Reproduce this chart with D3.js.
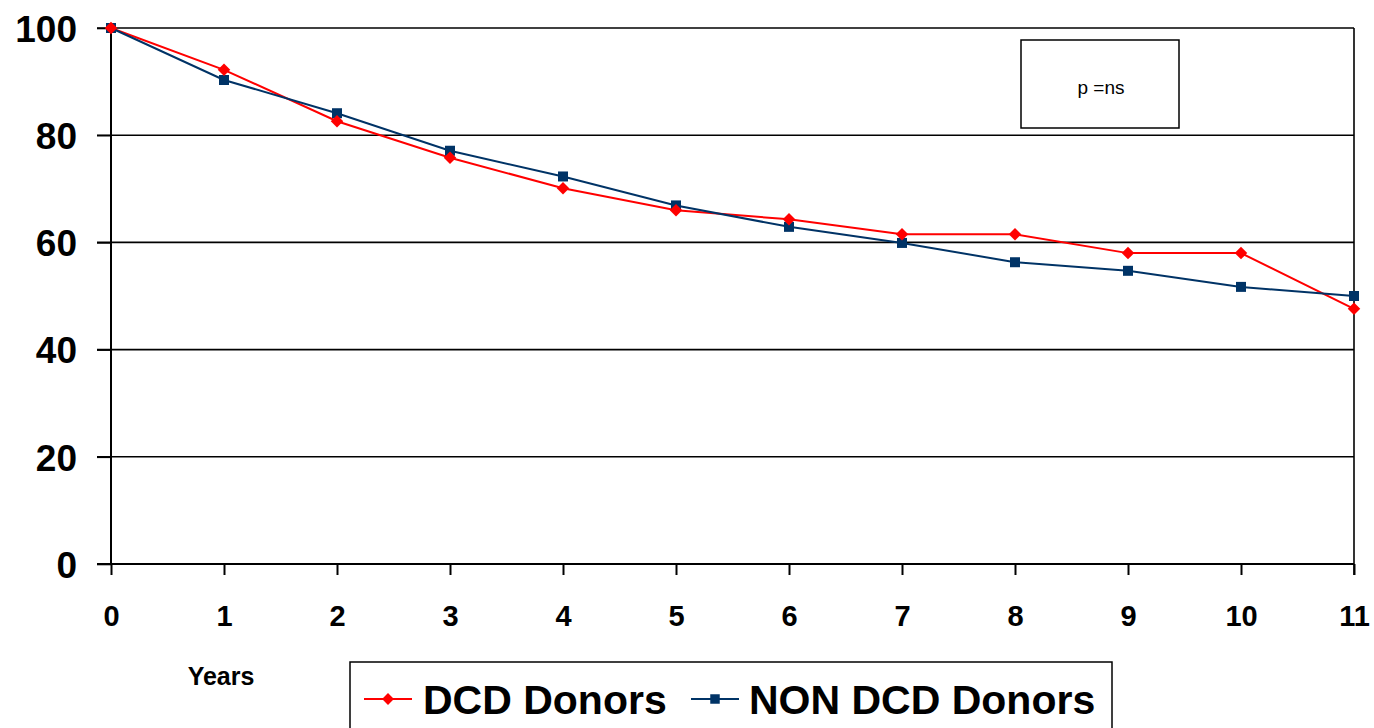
<!DOCTYPE html>
<html><head><meta charset="utf-8">
<script src="https://cdn.jsdelivr.net/npm/d3@7"></script>
<style>body{margin:0;background:#fff}svg{display:block}text{font-family:Arial,"Liberation Sans",sans-serif}</style>
</head><body><svg id="c" width="1374" height="728"></svg>
<script>
const years = [0,1,2,3,4,5,6,7,8,9,10,11];
const dcd = [100,92.2,82.6,75.8,70.1,66.0,64.3,61.5,61.5,58.0,58.0,47.6];
const nonDcd = [100,90.3,84.1,77.1,72.3,66.9,62.9,59.9,56.3,54.7,51.7,50.0];
const yTicks = [0,20,40,60,80,100];
const seriesNames = ["DCD Donors","NON DCD Donors"];
const colors = ["#ff0000","#003366"];

const svg = d3.select("#c");
const x = d3.scaleLinear().domain([0,11]).range([111,1354]);
const y = d3.scaleLinear().domain([0,100]).range([564,28]);

const diamondPath = (s)=>d3.symbol().type(d3.symbolSquare).size(s)();

// gridlines
svg.append("g").selectAll("line").data(yTicks.filter(d=>d>0)).join("line")
  .attr("x1",97).attr("x2",x(11)).attr("y1",d=>y(d)).attr("y2",d=>y(d))
  .attr("stroke","#000").attr("stroke-width",1.6);
// right border
svg.append("line").attr("x1",x(11)).attr("x2",x(11)).attr("y1",y(100)).attr("y2",y(0)+11)
  .attr("stroke","#000").attr("stroke-width",1.6);

const yAxis = d3.axisLeft(y).tickValues(yTicks).tickSize(14).tickPadding(20);
const gy = svg.append("g").attr("transform",`translate(${x(0)},0)`).call(yAxis);
gy.select(".domain").attr("stroke","#000").attr("stroke-width",2).attr("d",`M-14,${y(0)}H0V${y(100)}`);
gy.selectAll(".tick line").attr("stroke","#000").attr("stroke-width",1.6);
gy.selectAll(".tick text").attr("font-size",37).attr("font-weight","bold").attr("fill","#000").attr("dy","0.36em");

const xAxis = d3.axisBottom(x).tickValues(years).tickSize(11).tickPadding(30);
const gx = svg.append("g").attr("transform",`translate(0,${y(0)})`).call(xAxis);
gx.select(".domain").attr("stroke","#000").attr("stroke-width",2).attr("d",`M${x(0)},0H${x(11)}`);
gx.selectAll(".tick line").attr("stroke","#000").attr("stroke-width",2);
gx.selectAll(".tick text").attr("font-size",29).attr("font-weight","bold").attr("fill","#000");

const line = d3.line().x((d,i)=>x(years[i])).y(d=>y(d));

[[dcd,colors[0]],[nonDcd,colors[1]]].forEach(([data,col])=>{
  svg.append("path").datum(data).attr("d",line).attr("fill","none").attr("stroke",col).attr("stroke-width",2);
});
[[nonDcd,colors[1],"s"],[dcd,colors[0],"d"]].forEach(([data,col,m])=>{
  svg.append("g").selectAll("path").data(data).join("path")
    .attr("transform",(d,i)=>`translate(${x(years[i])},${y(d)})` + (m==="d"?" rotate(45)":""))
    .attr("d", m==="d" ? diamondPath(78) : d3.symbol().type(d3.symbolSquare).size(100)())
    .attr("fill",col);
});

// p=ns box
svg.append("rect").attr("x",1021).attr("y",40).attr("width",158).attr("height",88)
  .attr("fill","#fff").attr("stroke","#000").attr("stroke-width",1.5);
svg.append("text").attr("x",1101).attr("y",94).attr("text-anchor","middle").attr("font-size",19).text("p =ns");

// Years label
svg.append("text").attr("x",221).attr("y",685).attr("text-anchor","middle").attr("font-size",25).attr("font-weight","bold").text("Years");

// legend
const lg = svg.append("g");
lg.append("rect").attr("x",350).attr("y",662).attr("width",762).attr("height",80).attr("fill","#fff").attr("stroke","#000").attr("stroke-width",1.5);
const items = [{name:seriesNames[0],col:colors[0],m:"d",x0:364,tx:423},{name:seriesNames[1],col:colors[1],m:"s",x0:691,tx:749}];
items.forEach(it=>{
  lg.append("line").attr("x1",it.x0).attr("x2",it.x0+48).attr("y1",699).attr("y2",699).attr("stroke",it.col).attr("stroke-width",2);
  lg.append("path").attr("transform",`translate(${it.x0+24},699)`+(it.m==="d"?" rotate(45)":""))
    .attr("d",d3.symbol().type(d3.symbolSquare).size(it.m==="d"?70:90)()).attr("fill",it.col);
  lg.append("text").attr("x",it.tx).attr("y",714).attr("font-size",41).attr("font-weight","bold").text(it.name);
});
</script></body></html>
